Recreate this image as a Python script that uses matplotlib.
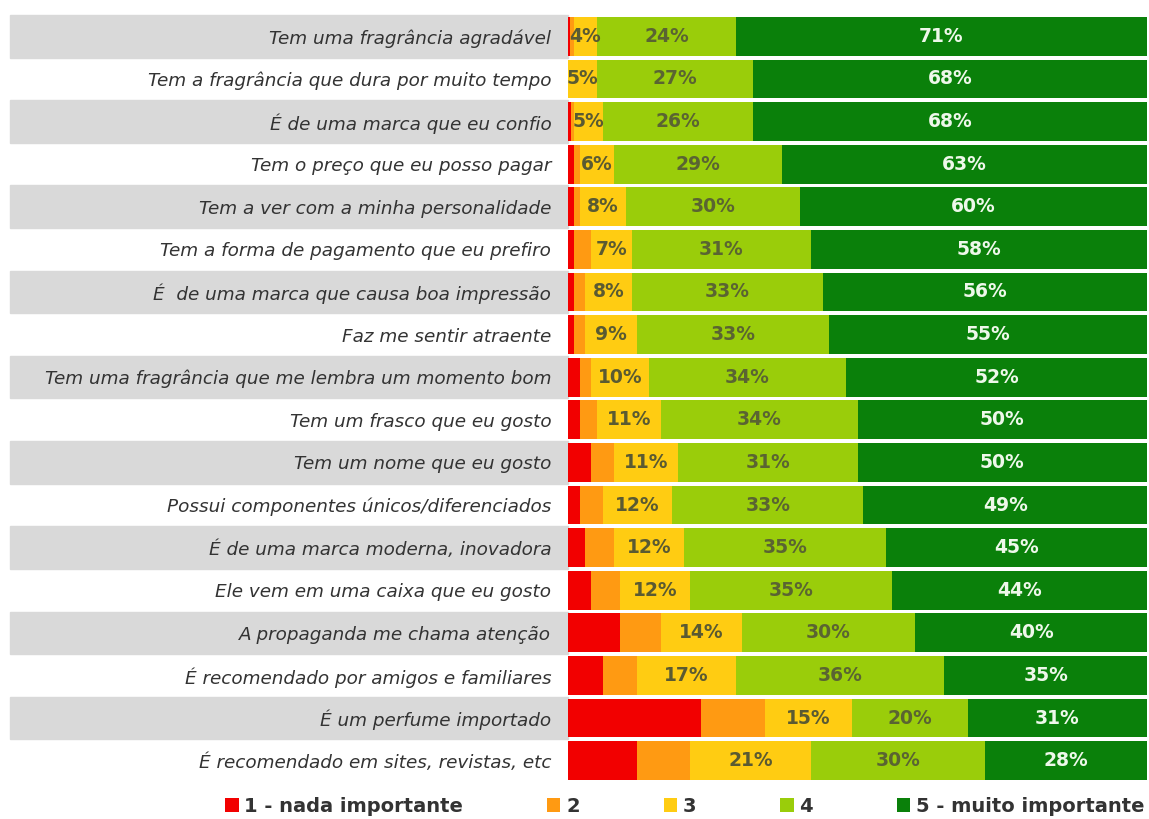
import matplotlib.pyplot as plt
import numpy as np

# Survey data: share of answers per importance level (percent)
attributes = [
    "Tem uma fragrância agradável",
    "Tem a fragrância que dura por muito tempo",
    "É de uma marca que eu confio",
    "Tem o preço que eu posso pagar",
    "Tem a ver com a minha personalidade",
    "Tem a forma de pagamento que eu prefiro",
    "É  de uma marca que causa boa impressão",
    "Faz me sentir atraente",
    "Tem uma fragrância que me lembra um momento bom",
    "Tem um frasco que eu gosto",
    "Tem um nome que eu gosto",
    "Possui componentes únicos/diferenciados",
    "É de uma marca moderna, inovadora",
    "Ele vem em uma caixa que eu gosto",
    "A propaganda me chama atenção",
    "É recomendado por amigos e familiares",
    "É um perfume importado",
    "É recomendado em sites, revistas, etc",
]
nivel1 = [0.3, 0, 0.5, 1, 1, 1, 1, 1, 2, 2, 4, 2, 3, 4, 9, 6, 23, 12]
nivel2 = [0.7, 0, 0.5, 1, 1, 3, 2, 2, 2, 3, 4, 4, 5, 5, 7, 6, 11, 9]
nivel3 = [4, 5, 5, 6, 8, 7, 8, 9, 10, 11, 11, 12, 12, 12, 14, 17, 15, 21]
nivel4 = [24, 27, 26, 29, 30, 31, 33, 33, 34, 34, 31, 33, 35, 35, 30, 36, 20, 30]
nivel5 = [71, 68, 68, 63, 60, 58, 56, 55, 52, 50, 50, 49, 45, 44, 40, 35, 31, 28]

legend_labels = ["1 - nada importante", "2", "3", "4", "5 - muito importante"]
colors = ["#f20000", "#ff9a12", "#ffcc12", "#9acd0a", "#0a800a"]
labelled = [False, False, True, True, True]
text_colors = [None, None, "#5a5a32", "#5a6432", "#eef8ea"]

fig = plt.figure(figsize=(11.49, 8.19), dpi=100)
ax = fig.add_axes([568 / 1149, 1 - 782 / 819, 579 / 1149, 767 / 819])

y = np.arange(len(attributes))
series = [nivel1, nivel2, nivel3, nivel4, nivel5]
left = np.zeros(len(attributes))
for vals, col, name, show, tc in zip(series, colors, legend_labels, labelled, text_colors):
    vals = np.array(vals, dtype=float)
    ax.barh(y, vals, left=left, height=0.91, color=col, label=name, linewidth=0)
    if show:
        for xi, yi, v in zip(left + vals / 2, y, vals):
            ax.text(xi, yi, f"{v:.0f}%", ha="center", va="center",
                    fontsize=13.5, fontweight="bold", color=tc)
    left += vals

# alternating grey bands behind the category labels
for i in range(0, len(attributes), 2):
    ax.axhspan(i - 0.5, i + 0.5, xmin=-558 / 579, xmax=0, color="#d9d9d9",
               clip_on=False, zorder=0)

ax.set_xlim(0, 100)
ax.set_ylim(len(attributes) - 0.5, -0.5)
ax.set_yticks(y)
ax.set_yticklabels(attributes, fontsize=13.2, fontstyle="italic", color="#333333")
ax.tick_params(axis="y", length=0, pad=12)
ax.set_xticks([])
for s in ax.spines.values():
    s.set_visible(False)

fig.legend(loc="center", bbox_to_anchor=(0.596, 1 - 806 / 819), ncol=5, frameon=False,
           handlelength=0.7, handleheight=0.7, handletextpad=0.3, columnspacing=4.3,
           prop={"weight": "bold", "size": 14}, labelcolor="#333333")

fig.savefig("out.png", dpi=100)
